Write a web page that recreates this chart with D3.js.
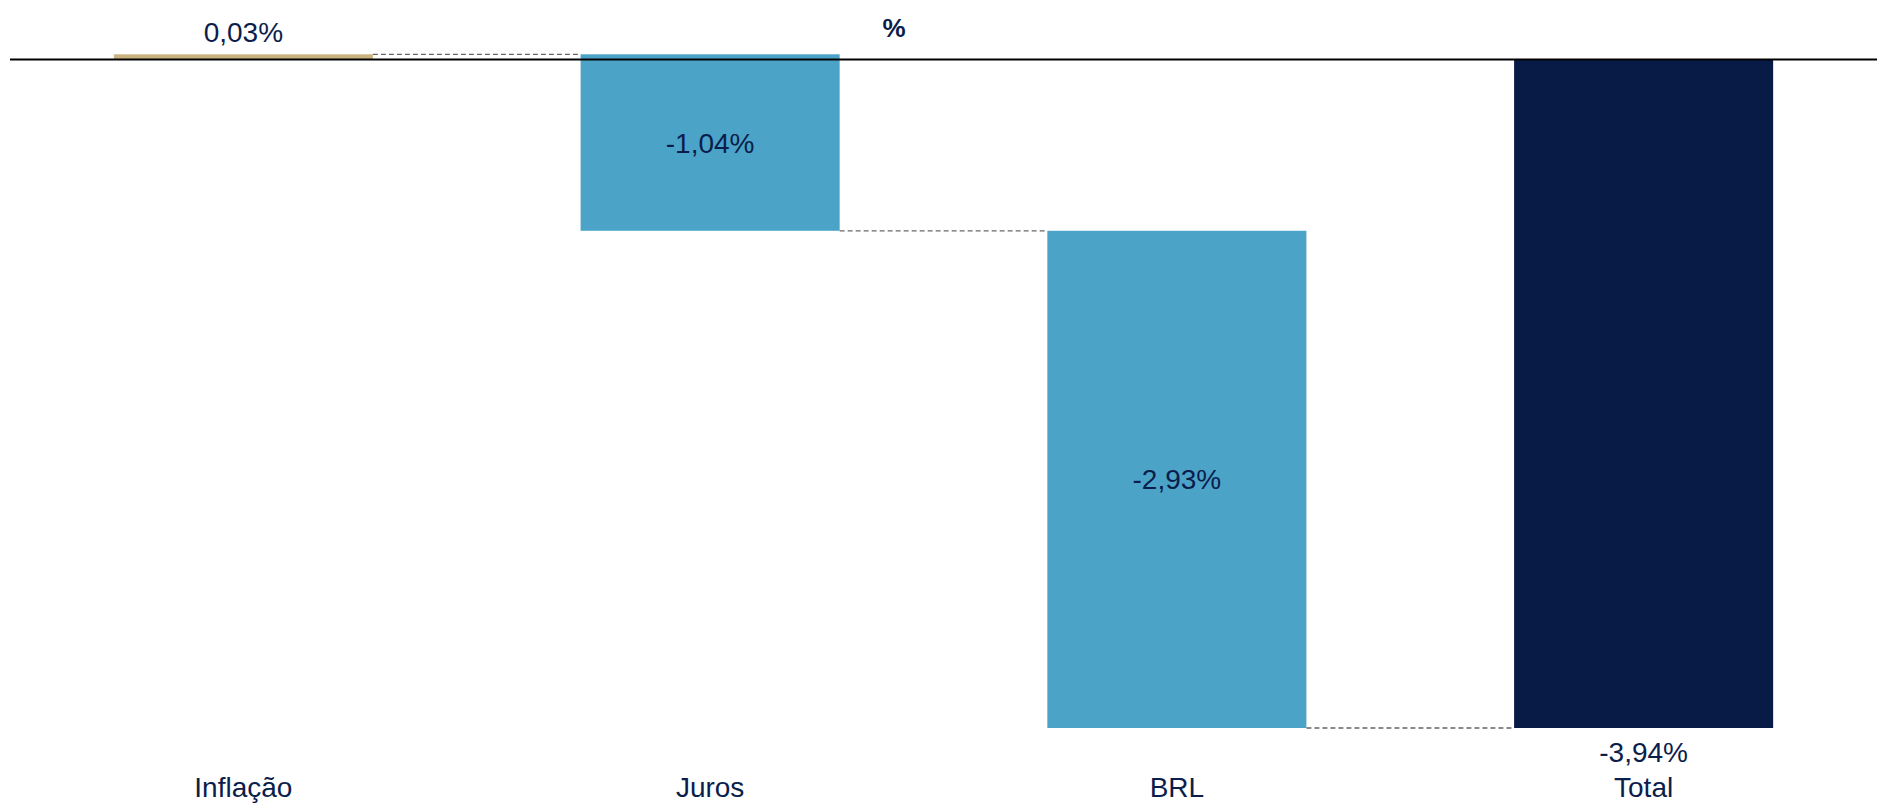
<!DOCTYPE html>
<html>
<head>
<meta charset="utf-8">
<script src="https://cdn.jsdelivr.net/npm/d3@7"></script>
<style>
    html, body { margin: 0; padding: 0; background: #ffffff; }
    svg { display: block; }
    text { font-family: "Liberation Sans", Arial, sans-serif; fill: #0b1e4b; }
</style>
</head>
<body>
<svg id="waterfallChart" width="1883" height="804"></svg>
<script>
const categories = ["Inflação", "Juros", "BRL", "Total"];
const values = [0.03, -1.04, -2.93, -3.94];
const isTotal = [false, false, false, true];
const barColors = ["#c9b37f", "#4ba4c8", "#4ba4c8", "#081b46"];
const unitLabel = "%";

const width = 1883;
const height = 804;
const margens = { left: 10, right: 6, top: 0, bottom: 76 };

const svg = d3.select("#waterfallChart");

// running totals for the waterfall
let acc = 0;
const bars = categories.map((c, i) => {
    let start, end;
    if (isTotal[i]) {
        start = 0;
        end = values[i];
    } else {
        start = acc;
        end = acc + values[i];
    }
    acc = end;
    return { cat: c, value: values[i], start, end, color: barColors[i], total: isTotal[i] };
});

const fmt = (v) => d3.format(".2f")(v).replace("−", "-").replace(".", ",") + "%";

const mapX = d3
    .scaleBand()
    .domain(categories)
    .range([margens.left, width - margens.right])
    .paddingInner(0.445)
    .paddingOuter(0.2225);

const yMin = d3.min(bars, (d) => Math.min(d.start, d.end));
const mapY = d3
    .scaleLinear()
    .domain([yMin, 0.35])
    .range([height - margens.bottom, margens.top]);

// bars
svg.append("g")
    .selectAll("rect")
    .data(bars)
    .enter()
    .append("rect")
    .attr("x", (d) => mapX(d.cat))
    .attr("y", (d) => mapY(Math.max(d.start, d.end)))
    .attr("width", mapX.bandwidth())
    .attr("height", (d) => Math.abs(mapY(d.start) - mapY(d.end)))
    .attr("fill", (d) => d.color);

// dashed connectors between bars
svg.append("g")
    .selectAll("line")
    .data(bars.slice(0, -1))
    .enter()
    .append("line")
    .attr("x1", (d) => mapX(d.cat) + mapX.bandwidth())
    .attr("x2", (d, i) => mapX(categories[i + 1]))
    .attr("y1", (d) => mapY(d.end))
    .attr("y2", (d) => mapY(d.end))
    .attr("stroke", "#666")
    .attr("stroke-width", 1.3)
    .attr("stroke-dasharray", "5,3");

// zero line
svg.append("line")
    .attr("x1", margens.left)
    .attr("x2", width - margens.right)
    .attr("y1", mapY(0))
    .attr("y2", mapY(0))
    .attr("stroke", "#000")
    .attr("stroke-width", 2);

// value labels
svg.append("g")
    .selectAll("text")
    .data(bars)
    .enter()
    .append("text")
    .attr("x", (d) => mapX(d.cat) + mapX.bandwidth() / 2)
    .attr("y", (d) => {
        if (d.value > 0) return mapY(d.end) - 12;
        if (d.total) return mapY(d.end) + 34;
        return (mapY(d.start) + mapY(d.end)) / 2 + 10;
    })
    .attr("text-anchor", "middle")
    .style("font-size", "28px")
    .text((d) => fmt(d.value));

// category labels
svg.append("g")
    .selectAll("text")
    .data(categories)
    .enter()
    .append("text")
    .attr("x", (d) => mapX(d) + mapX.bandwidth() / 2)
    .attr("y", 797)
    .attr("text-anchor", "middle")
    .style("font-size", "28px")
    .text((d) => d);

// unit label
svg.append("text")
    .attr("x", 894)
    .attr("y", 37)
    .attr("text-anchor", "middle")
    .style("font-size", "26px")
    .style("font-weight", "bold")
    .text(unitLabel);
</script>
</body>
</html>
